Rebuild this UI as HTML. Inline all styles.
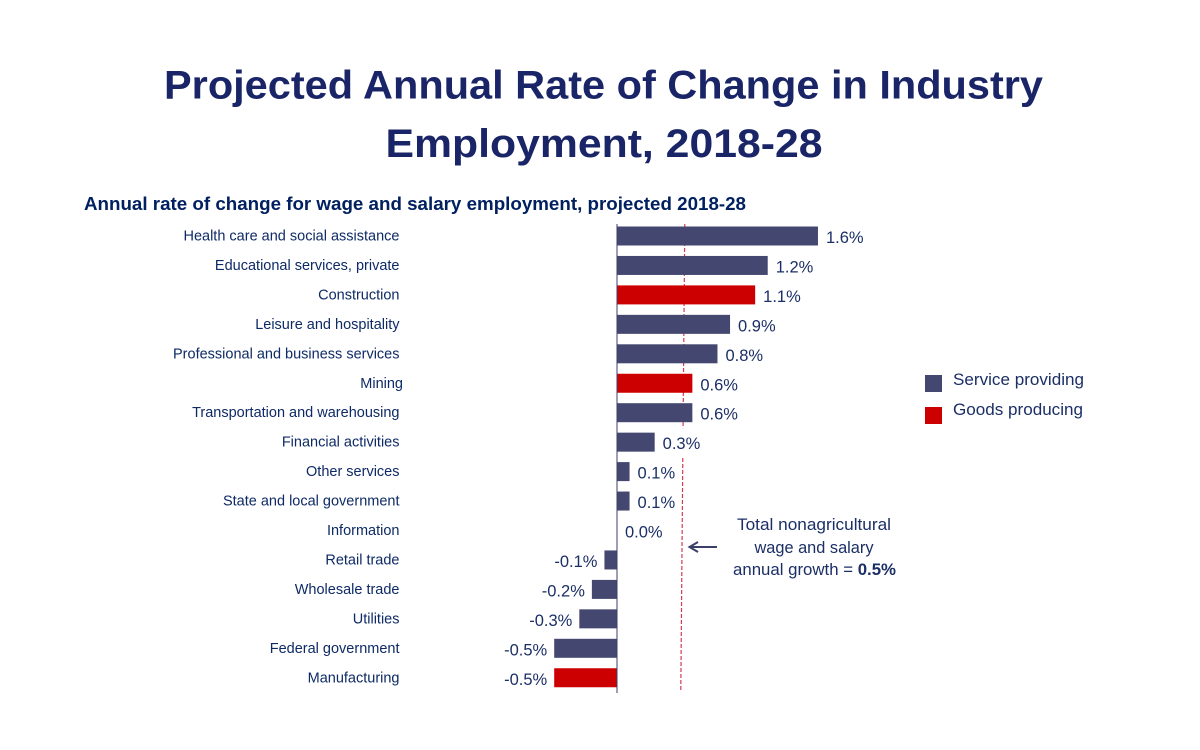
<!DOCTYPE html>
<html lang="en">
<head>
<meta charset="utf-8">
<title>Projected Annual Rate of Change in Industry Employment, 2018-28</title>
<style>
html,body{margin:0;padding:0;background:#fff;width:1200px;height:750px;overflow:hidden}
svg{display:block}
text{font-family:"Liberation Sans",sans-serif}
</style>
</head>
<body>
<svg id="chart" xmlns="http://www.w3.org/2000/svg" width="1200" height="750" viewBox="0 0 1200 750">
  <text x="603.5" y="98.5" text-anchor="middle" font-size="40" font-weight="700" fill="#1a2568" textLength="879" lengthAdjust="spacingAndGlyphs">Projected Annual Rate of Change in Industry</text>
  <text x="604" y="157" text-anchor="middle" font-size="40" font-weight="700" fill="#1a2568" textLength="437" lengthAdjust="spacingAndGlyphs">Employment, 2018-28</text>
  <text x="84" y="210" font-size="18" font-weight="700" fill="#002060" textLength="662" lengthAdjust="spacingAndGlyphs">Annual rate of change for wage and salary employment, projected 2018-28</text>

  <g id="reference-layer"></g>
  <g id="bars"></g>
  <g id="axis-layer"></g>
  <g id="cat-labels"></g>
  <g id="val-labels"></g>

  <g>
    <rect x="925" y="375" width="17" height="17" fill="#44476f"/>
    <text x="953" y="385" font-size="16.5" fill="#1b2f66" textLength="131" lengthAdjust="spacingAndGlyphs">Service providing</text>
    <rect x="925" y="407" width="17" height="17" fill="#cc0000"/>
    <text x="953" y="415" font-size="16.5" fill="#1b2f66" textLength="130" lengthAdjust="spacingAndGlyphs">Goods producing</text>
  </g>

  <g>
    <text x="814" y="530" text-anchor="middle" font-size="16.5" fill="#1b2f66" textLength="154" lengthAdjust="spacingAndGlyphs">Total nonagricultural</text>
    <text x="814" y="553" text-anchor="middle" font-size="16.5" fill="#1b2f66" textLength="119" lengthAdjust="spacingAndGlyphs">wage and salary</text>
    <text x="733" y="575" font-size="16.5" fill="#1b2f66" textLength="163" lengthAdjust="spacingAndGlyphs">annual growth = <tspan font-weight="700">0.5%</tspan></text>
    <g fill="none" stroke="#3c3f68" stroke-width="2">
      <line x1="717" y1="547" x2="690" y2="547"/>
      <polyline points="698,542 689.5,547 698,552"/>
    </g>
  </g>
</svg>
<script>
const categories = ["Health care and social assistance","Educational services, private","Construction","Leisure and hospitality","Professional and business services","Mining","Transportation and warehousing","Financial activities","Other services","State and local government","Information","Retail trade","Wholesale trade","Utilities","Federal government","Manufacturing"];
const values = [1.6,1.2,1.1,0.9,0.8,0.6,0.6,0.3,0.1,0.1,0.0,-0.1,-0.2,-0.3,-0.5,-0.5];
const sectors = ["service","service","goods","service","service","goods","service","service","service","service","service","service","service","service","service","goods"];
const printedValues = ["1.6%","1.2%","1.1%","0.9%","0.8%","0.6%","0.6%","0.3%","0.1%","0.1%","0.0%","-0.1%","-0.2%","-0.3%","-0.5%","-0.5%"];
const totalGrowth = [0.5];

const NS = "http://www.w3.org/2000/svg";
const sectorColor = {service:"#44476f", goods:"#cc0000"};
const xScale = v => 617 + v * 125.6;
const yScale = i => 236 + i * 29.45;
const BAR_H = 19;

function make(tag, attrs, parent){
  const el = document.createElementNS(NS, tag);
  for (const k in attrs) el.setAttribute(k, attrs[k]);
  parent.appendChild(el);
  return el;
}

const barsG = document.getElementById("bars");
const catG = document.getElementById("cat-labels");
const valG = document.getElementById("val-labels");
const axisG = document.getElementById("axis-layer");
const refG = document.getElementById("reference-layer");

const refLine = make("line", {x1:xScale(totalGrowth[0])+5, y1:224, x2:xScale(totalGrowth[0])+1, y2:691, stroke:"#d63a50", "stroke-width":1.2, "stroke-dasharray":"4 2"}, refG);



categories.forEach((name, i) => {
  const v = values[i];
  const x0 = xScale(Math.min(v, 0));
  const x1 = xScale(Math.max(v, 0));
  const y = yScale(i);

  const bar = make("rect", {x:x0, y:y - BAR_H/2, width:x1 - x0, height:BAR_H, fill:sectorColor[sectors[i]]}, barsG);
  
  

  const cat = make("text", {x:name === "Mining" ? 403 : 399.5, y:y + 4.5, "text-anchor":"end", "font-size":14.5, fill:"#0e2a66"}, catG);
  cat.textContent = name;
  
  

  const val = make("text", {x:v < 0 ? x0 - 7 : x1 + 8, y:y + 7, "text-anchor":v < 0 ? "end" : "start", "font-size":16.5, fill:"#1b2f66"}, valG);
  val.textContent = printedValues[i];
  
  

  const box = val.getBBox();
  const mask = document.createElementNS(NS, "rect");
  mask.setAttribute("x", box.x - 3);
  mask.setAttribute("y", y - 14);
  mask.setAttribute("width", box.width + 6);
  mask.setAttribute("height", 28);
  mask.setAttribute("fill", "#ffffff");
  
  
  valG.insertBefore(mask, val);
});

const axis = make("line", {x1:xScale(0), y1:224, x2:xScale(0), y2:693, stroke:"#3c3f68", "stroke-width":1}, axisG);


</script>
</body>
</html>
